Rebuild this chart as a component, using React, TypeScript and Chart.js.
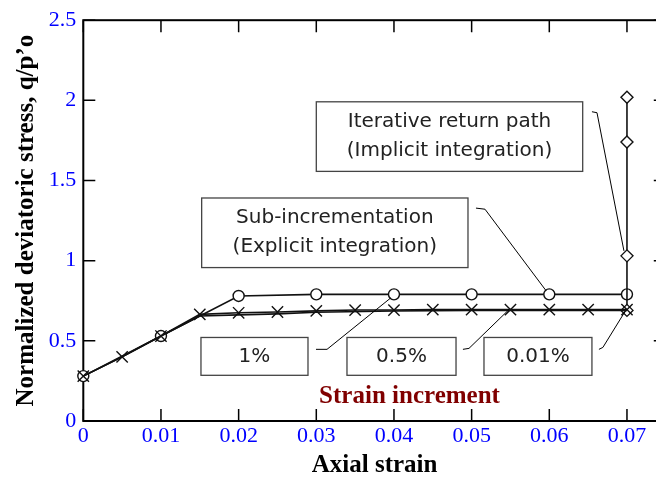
import React, { useEffect, useRef } from 'react';
import { Chart, registerables } from 'chart.js';

Chart.register(...registerables);

// ---- data ----
const xTickValues = [0, 0.01, 0.02, 0.03, 0.04, 0.05, 0.06, 0.07];
const xTickLabels = ['0', '0.01', '0.02', '0.03', '0.04', '0.05', '0.06', '0.07'];
const yTickValues = [0, 0.5, 1, 1.5, 2, 2.5];
const yTickLabels = ['0', '0.5', '1', '1.5', '2', '2.5'];

// 1% strain increment (circles)
const strain1 = [0, 0.01, 0.02, 0.03, 0.04, 0.05, 0.06, 0.07];
const q1 = [0.28, 0.53, 0.78, 0.79, 0.79, 0.79, 0.79, 0.79];

// 0.5% strain increment (crosses)
const strain05 = [0, 0.005, 0.01, 0.015, 0.02, 0.025, 0.03, 0.035, 0.04, 0.045, 0.05, 0.055, 0.06, 0.065, 0.07];
const q05 = [0.28, 0.40, 0.53, 0.665, 0.675, 0.68, 0.687, 0.692, 0.692, 0.695, 0.695, 0.695, 0.695, 0.695, 0.695];

// 0.01% strain increment (line)
const strain001 = [0, 0.005, 0.01, 0.015, 0.02, 0.025, 0.03, 0.04, 0.05, 0.06, 0.07];
const q001 = [0.28, 0.40, 0.53, 0.655, 0.662, 0.668, 0.678, 0.686, 0.69, 0.69, 0.69];

// Iterative return path (implicit integration), diamonds at final strain
const strainImplicit = [0.07, 0.07, 0.07, 0.07];
const qImplicit = [0.69, 1.03, 1.74, 2.02];

const xLabel = 'Axial strain';
const yLabel = 'Normalized deviatoric stress, q/p\u2019o';
const incrementLabel = 'Strain increment';

// annotation boxes (data coordinates)
const boxes = [
  { lines: ['Iterative return path', '(Implicit integration)'], x0: 0.0300, x1: 0.0643, y0: 1.557, y1: 1.991 },
  { lines: ['Sub-incrementation', '(Explicit integration)'], x0: 0.01524, x1: 0.04953, y0: 0.957, y1: 1.391 },
  { lines: ['1%'], x0: 0.01515, x1: 0.02893, y0: 0.285, y1: 0.521 },
  { lines: ['0.5%'], x0: 0.03395, x1: 0.04799, y0: 0.285, y1: 0.521 },
  { lines: ['0.01%'], x0: 0.05159, x1: 0.06549, y0: 0.285, y1: 0.521 },
];
const callouts = [
  [[0.06549, 1.929], [0.06614, 1.923], [0.06961, 1.061]],
  [[0.05056, 1.328], [0.05172, 1.321], [0.05958, 0.813]],
  [[0.02996, 0.447], [0.03138, 0.447], [0.03962, 0.769]],
  [[0.04888, 0.447], [0.04966, 0.453], [0.05481, 0.695]],
  [[0.06639, 0.447], [0.0669, 0.459], [0.06974, 0.682]],
];
const incrementPos = [0.042, 0.155];

const toXY = (xs: number[], ys: number[]) => xs.map((x, i) => ({ x, y: ys[i] }));

const framePlugin = {
  id: 'frame',
  beforeDatasetsDraw(chart: any) {
    const { ctx, chartArea: a, scales } = chart;
    const x = scales.x, y = scales.y;
    ctx.save();
    ctx.strokeStyle = '#000';
    ctx.lineWidth = 2;
    ctx.strokeRect(a.left, a.top, a.right - a.left, a.bottom - a.top);
    ctx.lineWidth = 1.5;
    const tl = 12;
    ctx.beginPath();
    for (const v of xTickValues) {
      const px = x.getPixelForValue(v);
      ctx.moveTo(px, a.bottom); ctx.lineTo(px, a.bottom - tl);
      ctx.moveTo(px, a.top); ctx.lineTo(px, a.top + tl);
    }
    for (const v of yTickValues) {
      const py = y.getPixelForValue(v);
      ctx.moveTo(a.left, py); ctx.lineTo(a.left + tl, py);
      ctx.moveTo(a.right, py); ctx.lineTo(a.right - tl, py);
    }
    ctx.stroke();
    ctx.restore();
  },
  afterDatasetsDraw(chart: any) {
    const { ctx, scales } = chart;
    const x = scales.x, y = scales.y;
    ctx.save();
    // callouts
    ctx.strokeStyle = '#000';
    ctx.lineWidth = 1;
    for (const pts of callouts) {
      ctx.beginPath();
      pts.forEach((p, i) => {
        const px = x.getPixelForValue(p[0]);
        const py = y.getPixelForValue(p[1]);
        if (i === 0) ctx.moveTo(px, py); else ctx.lineTo(px, py);
      });
      ctx.stroke();
    }
    // boxes
    for (const b of boxes) {
      const l = x.getPixelForValue(b.x0), r = x.getPixelForValue(b.x1);
      const t = y.getPixelForValue(b.y1), bt = y.getPixelForValue(b.y0);
      ctx.fillStyle = '#fff';
      ctx.fillRect(l, t, r - l, bt - t);
      ctx.strokeStyle = '#444';
      ctx.lineWidth = 1.3;
      ctx.strokeRect(l, t, r - l, bt - t);
      ctx.fillStyle = '#222';
      ctx.font = '20px "DejaVu Sans"';
      ctx.textAlign = 'center';
      ctx.textBaseline = 'middle';
      const cx = (l + r) / 2, cy = (t + bt) / 2;
      const lh = 29;
      b.lines.forEach((s, i) => {
        ctx.fillText(s, cx, cy + (i - (b.lines.length - 1) / 2) * lh);
      });
    }
    // strain increment label
    ctx.fillStyle = '#800000';
    ctx.font = 'bold 25px "Liberation Serif"';
    ctx.textAlign = 'center';
    ctx.textBaseline = 'middle';
    ctx.fillText(incrementLabel, x.getPixelForValue(incrementPos[0]), y.getPixelForValue(incrementPos[1]));
    ctx.restore();
  },
};

export default function App() {
  const ref = useRef<HTMLCanvasElement>(null);
  useEffect(() => {
    if (!ref.current) return;
    const chart = new Chart(ref.current, {
      type: 'scatter',
      data: {
        datasets: [
          {
            label: '0.01%',
            data: toXY(strain001, q001),
            showLine: true,
            borderColor: '#111',
            borderWidth: 1.6,
            pointRadius: 0,
            clip: false as any,
          },
          {
            label: '0.5%',
            data: toXY(strain05, q05),
            showLine: true,
            borderColor: '#111',
            borderWidth: 1.6,
            pointStyle: 'crossRot',
            pointRadius: 8,
            pointBorderWidth: 1.4,
            pointBorderColor: '#111',
            clip: false as any,
          },
          {
            label: 'Implicit',
            data: toXY(strainImplicit, qImplicit),
            showLine: true,
            borderColor: '#111',
            borderWidth: 1.6,
            pointStyle: 'rectRot',
            pointRadius: 6,
            pointBorderWidth: 1.4,
            pointBorderColor: '#111',
            pointBackgroundColor: '#fff',
            clip: false as any,
          },
          {
            label: '1%',
            data: toXY(strain1, q1),
            showLine: true,
            borderColor: '#111',
            borderWidth: 1.6,
            pointStyle: 'circle',
            pointRadius: 5.5,
            pointBorderWidth: 1.4,
            pointBorderColor: '#111',
            pointBackgroundColor: '#fff',
            clip: false as any,
          },
        ],
      },
      options: {
        animation: false,
        responsive: false,
        events: [],
        layout: { padding: { top: 18, right: 14.2, left: 0, bottom: 0 } },
        plugins: { legend: { display: false }, tooltip: { enabled: false } },
        scales: {
          x: {
            type: 'linear',
            min: 0,
            max: 0.075,
            grid: { display: false, drawTicks: false },
            border: { display: false },
            afterBuildTicks: (s: any) => { s.ticks = xTickValues.map((v) => ({ value: v })); },
            afterFit: (s: any) => { s.height = 57; },
            ticks: {
              color: '#0000ff',
              font: { family: '"Liberation Serif"', size: 22 },
              padding: 2,
              maxRotation: 0,
              autoSkip: false,
              callback: (v: any) => { const i = xTickValues.indexOf(Number(v)); return i >= 0 ? xTickLabels[i] : ''; },
            },
            title: {
              display: true,
              text: xLabel,
              color: '#000',
              font: { family: '"Liberation Serif"', size: 25, weight: 'bold', lineHeight: 1 },
              padding: { top: 0, bottom: 0 },
            },
          },
          y: {
            type: 'linear',
            min: 0,
            max: 2.5,
            grid: { display: false, drawTicks: false },
            border: { display: false },
            afterBuildTicks: (s: any) => { s.ticks = yTickValues.map((v) => ({ value: v })); },
            afterFit: (s: any) => { s.width = 83.3; },
            ticks: {
              color: '#0000ff',
              font: { family: '"Liberation Serif"', size: 22 },
              padding: 7,
              autoSkip: false,
              callback: (v: any) => { const i = yTickValues.indexOf(Number(v)); return i >= 0 ? yTickLabels[i] : ''; },
            },
            title: {
              display: true,
              text: yLabel,
              color: '#000',
              font: { family: '"Liberation Serif"', size: 25, weight: 'bold', lineHeight: 1 },
              padding: { top: 14.5, bottom: 0 },
            },
          },
        },
      },
      plugins: [framePlugin],
    } as any);
    return () => chart.destroy();
  }, []);
  return (
    <div style={{ position: 'fixed', left: 0, top: 0, width: 680, height: 478, background: '#fff' }}>
      <canvas ref={ref} width={680} height={478} style={{ width: 680, height: 478, display: 'block' }} />
    </div>
  );
}
